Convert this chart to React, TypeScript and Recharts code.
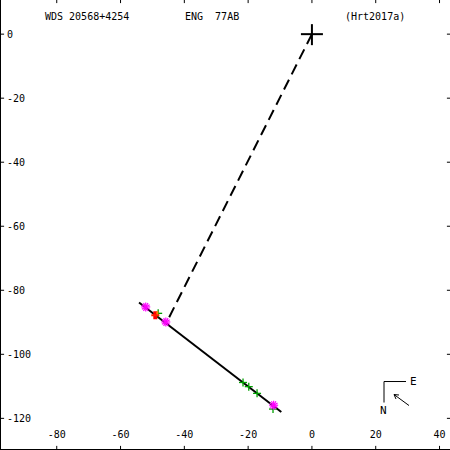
import React from 'react';
import { ScatterChart, Scatter, XAxis, YAxis, ReferenceLine } from 'recharts';

const xTicks = [-80, -60, -40, -20, 0, 20, 40];
const yTicks = [0, -20, -40, -60, -80, -100, -120];
const xDomain = [-98.1, 43.6];
const yDomain = [-130.2, 10.98];

const orbitLine = [{ x: -54.2, y: -83.8 }, { x: -9.6, y: -118.0 }];
const nodeLine = [{ x: 0, y: 0 }, { x: -45.4, y: -89.7 }];
const primary = [{ x: 0, y: 0 }];
const magentaObs = [
  { x: -52.1, y: -85.2 },
  { x: -45.8, y: -89.9 },
  { x: -12.0, y: -115.9 },
];
const greenObs = [
  { x: -48.2, y: -87.2 },
  { x: -21.6, y: -108.8 },
  { x: -19.8, y: -110.1 },
  { x: -17.2, y: -112.2 },
  { x: -12.2, y: -117.1 },
];
const redObs = [{ x: -49.1, y: -87.8 }];
const compassAnchor = [{ x: 22.6, y: -108.5 }];
const titleLeft = 'WDS 20568+4254';
const titleMid = 'ENG  77AB';
const titleRight = '(Hrt2017a)';

const FONT = '"DejaVu Sans Mono", monospace';

// tick mark lengths expressed in data units (≈5px)
const xTickLen = 1.6;
const yTickLen = 1.6;

const Star = (p: any) => {
  const { cx, cy } = p;
  const r = 4.5;
  const angs = [0, 30, 60, 90, 120, 150];
  return (
    <g stroke="#ff00ff" strokeWidth={1.2}>
      {angs.map((a) => {
        const dx = r * Math.cos((a * Math.PI) / 180);
        const dy = r * Math.sin((a * Math.PI) / 180);
        return <line key={a} x1={cx - dx} y1={cy - dy} x2={cx + dx} y2={cy + dy} />;
      })}
    </g>
  );
};

const Plus = (p: any) => {
  const { cx, cy } = p;
  return (
    <g stroke="#00a000" strokeWidth={1.3}>
      <line x1={cx - 4} y1={cy} x2={cx + 4} y2={cy} />
      <line x1={cx} y1={cy - 4} x2={cx} y2={cy + 4} />
    </g>
  );
};

const RedMark = (p: any) => {
  const { cx, cy } = p;
  return (
    <g>
      <rect x={cx - 2} y={cy - 4} width={4} height={8} fill="#ff0000" />
      <rect x={cx - 4} y={cy - 1} width={8} height={2} fill="#ff2000" />
      <rect x={cx + 1} y={cy - 4} width={2} height={3} fill="#ff8000" />
    </g>
  );
};

const BigCross = (p: any) => {
  const { cx, cy } = p;
  return (
    <g stroke="#000" strokeWidth={2}>
      <line x1={cx - 11} y1={cy} x2={cx + 11} y2={cy} />
      <line x1={cx} y1={cy - 10} x2={cx} y2={cy + 11} />
    </g>
  );
};

const Compass = (p: any) => {
  const { cx, cy } = p;
  return (
    <g>
      <line x1={cx} y1={cy} x2={cx + 22} y2={cy} stroke="#000" strokeWidth={1} />
      <line x1={cx} y1={cy} x2={cx} y2={cy + 21} stroke="#000" strokeWidth={1} />
      <text x={cx + 26} y={cy + 3} fontSize={11} fontFamily={FONT} fill="#000" stroke="none">E</text>
      <text x={cx - 4} y={cy + 32} fontSize={11} fontFamily={FONT} fill="#000" stroke="none">N</text>
      <line x1={cx + 25} y1={cy + 24} x2={cx + 10} y2={cy + 13} stroke="#000" strokeWidth={1} />
      <line x1={cx + 10} y1={cy + 13} x2={cx + 15} y2={cy + 13.5} stroke="#000" strokeWidth={1} />
      <line x1={cx + 10} y1={cy + 13} x2={cx + 12} y2={cy + 17.5} stroke="#000" strokeWidth={1} />
    </g>
  );
};

const tickStyle = { fill: '#000', fontSize: 10, fontFamily: FONT };

export default function App() {
  return (
    <div style={{ position: 'absolute', left: 0, top: 0, width: 450, height: 450, background: '#fff' }}>
      <ScatterChart width={450} height={450} margin={{ top: -1, right: -1, bottom: -1, left: -1 }}>
        <XAxis
          xAxisId="b"
          type="number"
          dataKey="x"
          orientation="bottom"
          mirror
          height={1}
          domain={xDomain}
          ticks={xTicks}
          allowDataOverflow
          tickSize={5}
          tickMargin={8}
          tick={tickStyle}
          axisLine={false}
          tickLine={false}
        />
        <XAxis
          xAxisId="t"
          type="number"
          dataKey="x"
          orientation="top"
          mirror
          height={1}
          domain={xDomain}
          ticks={xTicks}
          allowDataOverflow
          tick={false}
          axisLine={false}
          tickLine={false}
        />
        <YAxis
          yAxisId="l"
          type="number"
          dataKey="y"
          orientation="left"
          mirror
          width={1}
          domain={yDomain}
          ticks={yTicks}
          allowDataOverflow
          tickSize={5}
          tickMargin={3}
          tick={tickStyle}
          axisLine={false}
          tickLine={false}
        />
        <YAxis
          yAxisId="r"
          type="number"
          dataKey="y"
          orientation="right"
          mirror
          width={1}
          domain={yDomain}
          ticks={yTicks}
          allowDataOverflow
          tick={false}
          axisLine={false}
          tickLine={false}
        />
        {/* frame: left and bottom border */}
        <ReferenceLine xAxisId="b" yAxisId="l" x={xDomain[0]} stroke="#000" strokeWidth={4} ifOverflow="visible" />
        <ReferenceLine xAxisId="b" yAxisId="l" y={yDomain[0]} stroke="#000" strokeWidth={4} ifOverflow="visible" />
        {/* tick marks */}
        {xTicks.map((t) => (
          <ReferenceLine
            key={'bt' + t}
            xAxisId="b"
            yAxisId="l"
            segment={[{ x: t, y: yDomain[0] }, { x: t, y: yDomain[0] + yTickLen }]}
            stroke="#000"
            strokeWidth={1}
            ifOverflow="visible"
          />
        ))}
        {xTicks.map((t) => (
          <ReferenceLine
            key={'tt' + t}
            xAxisId="b"
            yAxisId="l"
            segment={[{ x: t, y: yDomain[1] }, { x: t, y: yDomain[1] - yTickLen * 0.8 }]}
            stroke="#000"
            strokeWidth={1}
            ifOverflow="visible"
          />
        ))}
        {yTicks.map((t) => (
          <ReferenceLine
            key={'lt' + t}
            xAxisId="b"
            yAxisId="l"
            segment={[{ x: xDomain[0], y: t }, { x: xDomain[0] + xTickLen, y: t }]}
            stroke="#000"
            strokeWidth={1}
            ifOverflow="visible"
          />
        ))}
        {yTicks.map((t) => (
          <ReferenceLine
            key={'rt' + t}
            xAxisId="b"
            yAxisId="l"
            segment={[{ x: xDomain[1], y: t }, { x: xDomain[1] - xTickLen * 0.8, y: t }]}
            stroke="#000"
            strokeWidth={1}
            ifOverflow="visible"
          />
        ))}
        <ReferenceLine
          xAxisId="b"
          yAxisId="l"
          segment={nodeLine}
          stroke="#000"
          strokeWidth={2}
          strokeDasharray="11 6"
          ifOverflow="visible"
        />
        <ReferenceLine
          xAxisId="b"
          yAxisId="l"
          segment={orbitLine}
          stroke="#000"
          strokeWidth={2}
          ifOverflow="visible"
        />
        <Scatter xAxisId="b" yAxisId="l" data={primary} shape={BigCross} isAnimationActive={false} />
        <Scatter xAxisId="b" yAxisId="l" data={greenObs} shape={Plus} isAnimationActive={false} />
        <Scatter xAxisId="b" yAxisId="l" data={redObs} shape={RedMark} isAnimationActive={false} />
        <Scatter xAxisId="b" yAxisId="l" data={magentaObs} shape={Star} isAnimationActive={false} />
        <Scatter xAxisId="b" yAxisId="l" data={compassAnchor} shape={Compass} fill="#000" isAnimationActive={false} />
      </ScatterChart>
      <div style={{ position: 'absolute', top: 11, left: 45, fontFamily: FONT, fontSize: 10, whiteSpace: 'pre', lineHeight: '12px' }}>{titleLeft}</div>
      <div style={{ position: 'absolute', top: 11, left: 185, fontFamily: FONT, fontSize: 10, whiteSpace: 'pre', lineHeight: '12px' }}>{titleMid}</div>
      <div style={{ position: 'absolute', top: 11, left: 345, fontFamily: FONT, fontSize: 10, whiteSpace: 'pre', lineHeight: '12px' }}>{titleRight}</div>
    </div>
  );
}
